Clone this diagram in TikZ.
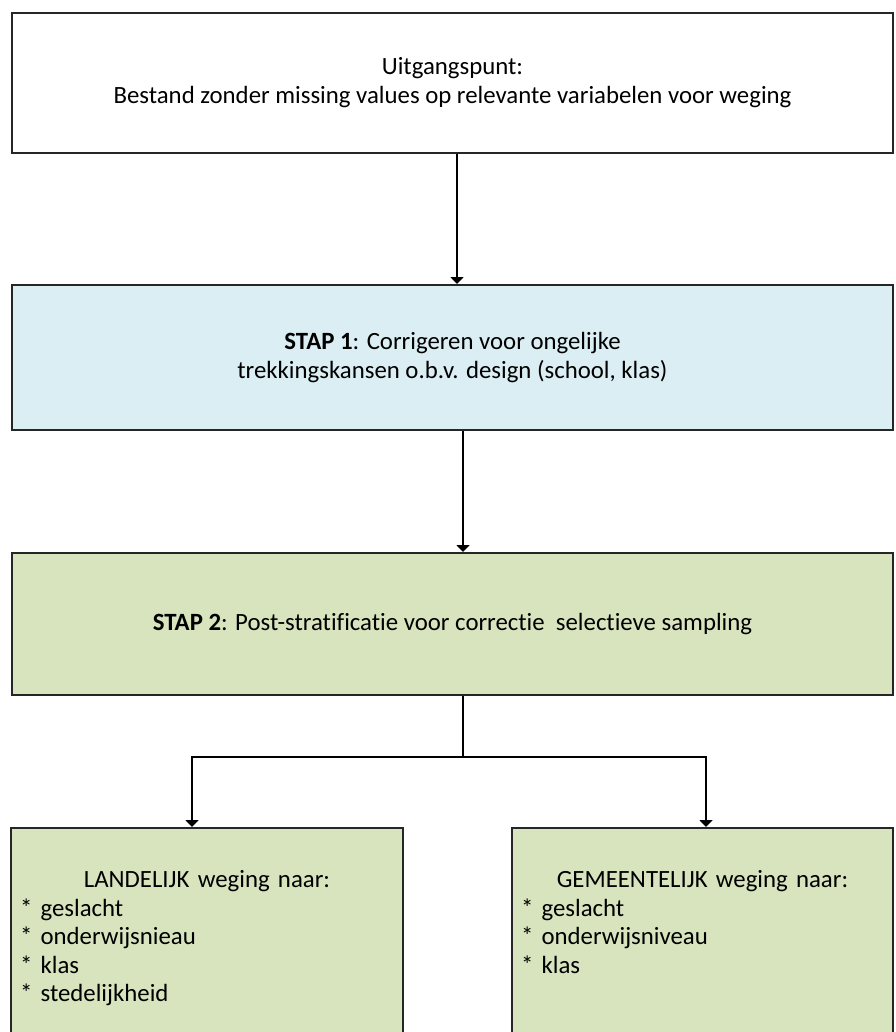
\documentclass[tikz,border=0pt]{standalone}
\usepackage{fontspec}
\setmainfont{Carlito}[Ligatures=NoCommon]
\usetikzlibrary{arrows.meta,positioning}
\definecolor{stapblue}{HTML}{DAEEF3}
\definecolor{stapgreen}{HTML}{D7E4BD}

\begin{document}
\begin{tikzpicture}[x=0.5pt,y=-0.5pt,
	box/.style={draw=black!85,line width=1pt,inner sep=0pt,align=center,font=\fontsize{12.4}{14.5}\selectfont},
	bluebox/.style={box,fill=stapblue},
	greenbox/.style={box,fill=stapgreen},
	list/.style={inner sep=0pt,align=left,font=\fontsize{12.4}{14.3}\selectfont},
	arr/.style={line width=1pt,-{Triangle[width=6.5pt,length=3.5pt]}}]
	\useasboundingbox (0,0) rectangle (895,1032);
	\clip (0,0) rectangle (895,1032);
	% boxes
	\node (start) [box,minimum width=440.5pt,minimum height=70pt] at (452.5,83) {Uitgangspunt:\\Bestand zonder missing values op relevante variabelen voor weging};
	\node (stap1) [bluebox,minimum width=440.5pt,minimum height=72.5pt] at (452.5,357.5) {\textbf{STAP 1}: Corrigeren voor ongelijke\\trekkingskansen o.b.v. design (school, klas)};
	\node (stap2) [greenbox,minimum width=440.5pt,minimum height=71pt] at (452.5,624) {\textbf{STAP 2}: Post-stratificatie voor correctie\ \ selectieve sampling};
	\node (landelijk) [greenbox,minimum width=196pt,minimum height=121pt] at (207,949) {};
	\node (gemeente) [greenbox,minimum width=190.5pt,minimum height=121pt] at (702.5,949) {};
	\node (landtxt) [list,text width=187pt,below=21.5pt of landelijk.north] {\makebox[187pt][c]{LANDELIJK weging naar:}\\{}* geslacht\\{}* onderwijsnieau\\{}* klas\\{}* stedelijkheid};
	\node (gemtxt) [list,text width=181.5pt,below=21.5pt of gemeente.north] {\makebox[181.5pt][c]{GEMEENTELIJK weging naar:}\\{}* geslacht\\{}* onderwijsniveau\\{}* klas};
	% connectors
	\coordinate (split) at (463,757);
	\draw[arr] (start.south -| 457,0) -- (stap1.north -| 457,0);
	\draw[arr] (stap1.south -| split) -- (stap2.north -| split);
	\draw[line width=1pt] (stap2.south -| split) -- (split);
	\draw[arr] (split) -| (landelijk.north -| 192,0);
	\draw[arr] (split) -| (gemeente.north -| 706,0);
\end{tikzpicture}
\end{document}
